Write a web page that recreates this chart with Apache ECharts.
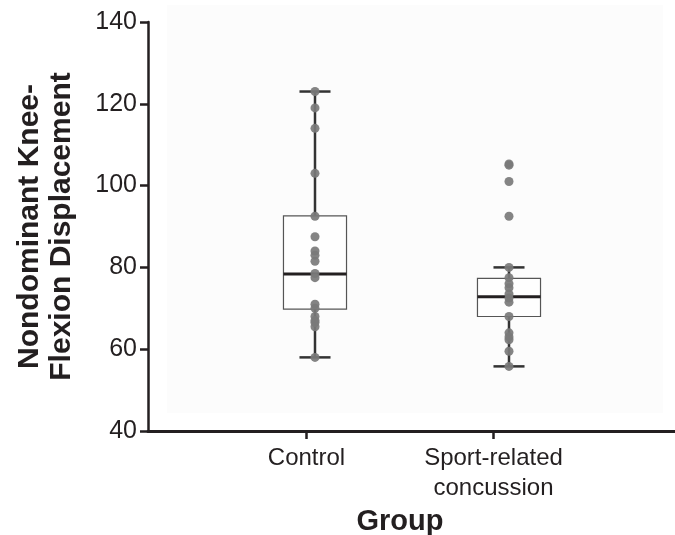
<!DOCTYPE html>
<html>
<head>
<meta charset="utf-8">
<script src="https://cdn.jsdelivr.net/npm/echarts@6/dist/echarts.min.js"></script>
<style>
  html, body { margin: 0; padding: 0; background: #fff; }
  #main { width: 675px; height: 535px; }
</style>
</head>
<body>
<div id="main"></div>
<script>
// groups, x positions on the data axis
const categories = ['Control', 'Sport-related\nconcussion'];
const groupPos = [1, 2];

// box stats: [min, Q1, median, Q3, max]
const controlBox = [58, 69.8, 78.4, 92.6, 123];
const srcBox = [55.8, 68, 72.8, 77.3, 80];

// individual subjects
const controlPoints = [123, 119, 114, 103, 92.5, 87.5, 84, 83, 81.5, 78.5, 77.5, 71, 70, 68, 67, 66.5, 65.5, 58];
const srcPoints = [105.3, 105, 101, 92.5, 80, 77.5, 76, 75, 73.5, 72.5, 71.5, 68, 64, 63, 62.3, 59.5, 55.8];

const yTicks = [40, 60, 80, 100, 120, 140];

const axisColor = '#231f20';
const font = 'Liberation Sans, Arial, sans-serif';

let myChart = echarts.init(document.getElementById('main'));

const boxData = [
  [groupPos[0]].concat(controlBox),
  [groupPos[1]].concat(srcBox)
];
const pointData = controlPoints.map(v => [groupPos[0], v])
  .concat(srcPoints.map(v => [groupPos[1], v]));

function renderBox(params, api) {
  const x = api.value(0);
  const pMin = api.coord([x, api.value(1)]);
  const pQ1 = api.coord([x, api.value(2)]);
  const pMed = api.coord([x, api.value(3)]);
  const pQ3 = api.coord([x, api.value(4)]);
  const pMax = api.coord([x, api.value(5)]);
  const boxW = api.size([0.325, 0])[0];
  const capW = api.size([0.16, 0])[0];
  const cx = pMed[0];
  const whisker = { stroke: '#333', lineWidth: 2.5 };
  return {
    type: 'group',
    children: [
      { type: 'line', shape: { x1: cx, y1: pMax[1], x2: cx, y2: pQ3[1] }, style: whisker },
      { type: 'line', shape: { x1: cx, y1: pQ1[1], x2: cx, y2: pMin[1] }, style: whisker },
      { type: 'line', shape: { x1: cx - capW / 2, y1: pMax[1], x2: cx + capW / 2, y2: pMax[1] }, style: whisker },
      { type: 'line', shape: { x1: cx - capW / 2, y1: pMin[1], x2: cx + capW / 2, y2: pMin[1] }, style: whisker },
      {
        type: 'rect',
        shape: { x: cx - boxW / 2, y: pQ3[1], width: boxW, height: pQ1[1] - pQ3[1] },
        style: { fill: 'rgba(255,255,255,0.6)', stroke: '#555', lineWidth: 1.2 }
      },
      { type: 'line', shape: { x1: cx - boxW / 2, y1: pMed[1], x2: cx + boxW / 2, y2: pMed[1] }, style: { stroke: axisColor, lineWidth: 3 } }
    ]
  };
}

myChart.setOption({
  animation: false,
  textStyle: { fontFamily: font },
  grid: [
    // data + axis lines
    { left: 148, right: 0, top: 22, bottom: 104, outerBoundsMode: 'none' },
    // faint panel background
    { left: 167, right: 12, top: 5, bottom: 122, show: true, backgroundColor: '#fcfcfc', borderWidth: 0, outerBoundsMode: 'none' },
    // category labels and ticks
    { left: 213, right: 88, top: 22, bottom: 104, outerBoundsMode: 'none' }
  ],
  xAxis: [
    {
      gridIndex: 0, type: 'value', min: 0.1392, max: 2.8557,
      axisLine: { show: true, onZero: false, lineStyle: { color: axisColor, width: 3 } },
      axisTick: { show: false }, axisLabel: { show: false }, splitLine: { show: false }
    },
    { gridIndex: 1, type: 'value', show: false },
    {
      gridIndex: 2, type: 'category', data: categories,
      axisLine: { show: false },
      axisTick: { show: true, alignWithLabel: true, length: 8, lineStyle: { color: axisColor, width: 2.5 } },
      axisLabel: { fontSize: 24, lineHeight: 30, color: axisColor, margin: 12, fontFamily: font },
      name: 'Group', nameLocation: 'middle', nameGap: 76,
      nameTextStyle: { fontSize: 29, fontWeight: 'bold', color: axisColor, fontFamily: font }
    }
  ],
  yAxis: [
    {
      gridIndex: 0, type: 'value', min: yTicks[0], max: yTicks[yTicks.length - 1], interval: 20,
      axisLine: { show: true, lineStyle: { color: axisColor, width: 2.5 } },
      axisTick: { show: true, length: 8, lineStyle: { color: axisColor, width: 2.5 } },
      axisLabel: { fontSize: 25, color: axisColor, margin: 11, fontFamily: font },
      splitLine: { show: false },
      name: 'Nondominant Knee-\nFlexion Displacement', nameLocation: 'middle', nameGap: 70,
      nameTextStyle: { fontSize: 30, fontWeight: 'bold', lineHeight: 32, color: axisColor, fontFamily: font }
    },
    { gridIndex: 1, type: 'value', show: false },
    { gridIndex: 2, type: 'value', show: false, min: 40, max: 140 }
  ],
  series: [
    {
      type: 'custom', xAxisIndex: 0, yAxisIndex: 0,
      renderItem: renderBox, data: boxData, z: 2
    },
    {
      type: 'scatter', xAxisIndex: 0, yAxisIndex: 0,
      data: pointData, symbolSize: 9,
      itemStyle: { color: '#7a7a7a', opacity: 0.92 }, z: 3
    }
  ]
});
</script>
</body>
</html>
